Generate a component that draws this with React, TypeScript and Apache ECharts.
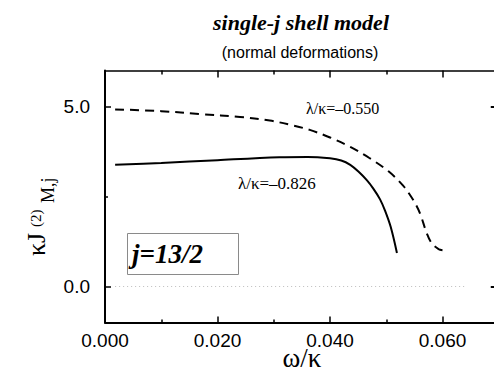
import React, { useEffect, useRef } from "react";
import * as echarts from "echarts";

// ---- data ----
const omegaSolid = [0.0018, 0.010, 0.020, 0.031, 0.036, 0.040, 0.042, 0.0436, 0.0450, 0.0465, 0.0477, 0.0489, 0.0498, 0.0508, 0.0519];
const jSolid = [3.38, 3.43, 3.51, 3.59, 3.60, 3.56, 3.50, 3.38, 3.20, 2.96, 2.72, 2.42, 2.10, 1.65, 0.93];

const omegaDashed = [0.0018, 0.010, 0.017, 0.024, 0.0293, 0.0335, 0.0364, 0.040, 0.0436, 0.047, 0.0504, 0.053, 0.0548, 0.056, 0.0572, 0.0581, 0.0593, 0.0600];
const jDashed = [4.92, 4.87, 4.79, 4.71, 4.61, 4.47, 4.35, 4.14, 3.88, 3.57, 3.20, 2.80, 2.40, 2.03, 1.48, 1.20, 1.04, 1.01];

const zeroLineOmega = [0.0018, 0.064];
const zeroLineJ = [0, 0];

const xMajorTicks = [0, 0.02, 0.04, 0.06];
const xMinorTicks = [0.01, 0.03, 0.05];
const yMajorTicks = [0, 5];
const yMinorTicks = [2.5];

const labelSolid = "λ/κ=–0.826";
const labelDashed = "λ/κ=–0.550";
const titleText = "single-j shell model";
const subtitleText = "(normal deformations)";
const boxText = "j=13/2";
const xName = "ω/κ";

const SERIF = "Liberation Serif";
const SANS = "Liberation Sans";

function txt(text: string, x: number, y: number, family: string, size: number, extra: any = {}, rotation = 0) {
  const { weight, fontStyle, align, vAlign, lineHeight } = extra;
  const style: any = {
    text,
    fontFamily: family,
    fontSize: size,
    fontWeight: weight || "normal",
    fontStyle: fontStyle || "normal",
    fill: "#000",
    align: align || "left",
    verticalAlign: vAlign || "middle",
  };
  if (lineHeight) style.lineHeight = lineHeight;
  return { type: "text", x, y, rotation, style };
}

export default function App() {
  const ref = useRef<HTMLDivElement>(null);

  useEffect(() => {
    if (!ref.current) return;
    const chart = echarts.init(ref.current, undefined, { renderer: "svg" });
    const xBase = { type: "value" as const, min: 0, max: 0.07 };
    const yBase = { type: "value" as const, min: -1, max: 6 };
    const hiddenLbl = { show: false };
    const noSplit = { show: false };
    const option: any = {
      animation: false,
      backgroundColor: "#ffffff",
      grid: { left: 105, right: 0.25, top: 70.5, bottom: 50.5, containLabel: false, outerBoundsMode: "none" },
      xAxis: [
        {
          ...xBase,
          position: "bottom",
          axisLine: { show: true, onZero: false, lineStyle: { color: "#000", width: 2 } },
          axisTick: { show: true, inside: true, length: 6, customValues: xMajorTicks, lineStyle: { color: "#000", width: 1.5 } },
          axisLabel: {
            customValues: xMajorTicks,
            formatter: (v: number) => v.toFixed(3),
            color: "#000",
            fontFamily: SANS,
            fontSize: 19,
            lineHeight: 15,
            margin: 10,
          },
          splitLine: noSplit,
        },
        {
          ...xBase,
          position: "bottom",
          axisLine: { show: false, onZero: false },
          axisTick: { show: true, inside: true, length: 3, customValues: xMinorTicks, lineStyle: { color: "#000", width: 1.5 } },
          axisLabel: hiddenLbl,
          splitLine: noSplit,
        },
        {
          ...xBase,
          position: "top",
          axisLine: { show: true, onZero: false, lineStyle: { color: "#000", width: 1.5 } },
          axisTick: { show: true, inside: true, length: 7, customValues: xMajorTicks, lineStyle: { color: "#000", width: 1.5 } },
          axisLabel: hiddenLbl,
          splitLine: noSplit,
        },
        {
          ...xBase,
          position: "top",
          axisLine: { show: false, onZero: false },
          axisTick: { show: true, inside: true, length: 4, customValues: xMinorTicks, lineStyle: { color: "#000", width: 1.5 } },
          axisLabel: hiddenLbl,
          splitLine: noSplit,
        },
      ],
      yAxis: [
        {
          ...yBase,
          position: "left",
          axisLine: { show: true, onZero: false, lineStyle: { color: "#000", width: 2 } },
          axisTick: { show: true, inside: true, length: 6, customValues: yMajorTicks, lineStyle: { color: "#000", width: 1.5 } },
          axisLabel: {
            customValues: yMajorTicks,
            formatter: (v: number) => v.toFixed(1),
            color: "#000",
            fontFamily: SANS,
            fontSize: 19,
            margin: 15,
          },
          splitLine: noSplit,
        },
        {
          ...yBase,
          position: "left",
          axisLine: { show: false, onZero: false },
          axisTick: { show: true, inside: true, length: 3, customValues: yMinorTicks, lineStyle: { color: "#000", width: 1.5 } },
          axisLabel: hiddenLbl,
          splitLine: noSplit,
        },
        {
          ...yBase,
          position: "right",
          axisLine: { show: false, onZero: false },
          axisTick: { show: true, inside: true, length: 8, customValues: yMajorTicks, lineStyle: { color: "#000", width: 2 } },
          axisLabel: hiddenLbl,
          splitLine: noSplit,
        },
      ],
      series: [
        {
          type: "line",
          data: zeroLineOmega.map((w, i) => [w, zeroLineJ[i]]),
          showSymbol: false,
          lineStyle: { color: "#bdbdbd", width: 1, type: [1, 3] },
          silent: true,
        },
        {
          type: "line",
          data: omegaSolid.map((w, i) => [w, jSolid[i]]),
          showSymbol: false,
          smooth: 0.35,
          lineStyle: { color: "#000", width: 2 },
        },
        {
          type: "line",
          data: omegaDashed.map((w, i) => [w, jDashed[i]]),
          showSymbol: false,
          smooth: 0.35,
          lineStyle: { color: "#000", width: 2, type: [9, 6] },
        },
      ],
      graphic: [
        txt(titleText, 301, 22, SERIF, 22, { weight: "bold", fontStyle: "italic", align: "center" }),
        txt(subtitleText, 300, 52.5, SANS, 16, { align: "center" }),
        txt(labelDashed, 306, 108, SERIF, 16),
        txt(labelSolid, 238, 183, SERIF, 17),
        {
          type: "rect",
          shape: { x: 127.5, y: 233.5, width: 111, height: 41 },
          style: { fill: "#fff", stroke: "#8a8a8a", lineWidth: 1 },
        },
        txt(boxText, 132, 254, SERIF, 27, { weight: "bold", fontStyle: "italic" }),
        txt(xName, 302, 358, SERIF, 27, { align: "center", lineHeight: 20 }),
        txt("κJ", 49, 256, SERIF, 26, { vAlign: "bottom" }, Math.PI / 2),
        txt("(2)", 43, 227, SERIF, 15, { vAlign: "bottom" }, Math.PI / 2),
        txt("M,j", 57, 203, SERIF, 18, { vAlign: "bottom" }, Math.PI / 2),
      ],
    };
    chart.setOption(option);
    return () => chart.dispose();
  }, []);

  return <div ref={ref} style={{ position: "fixed", left: 0, top: 0, width: 499, height: 373 }} />;
}
